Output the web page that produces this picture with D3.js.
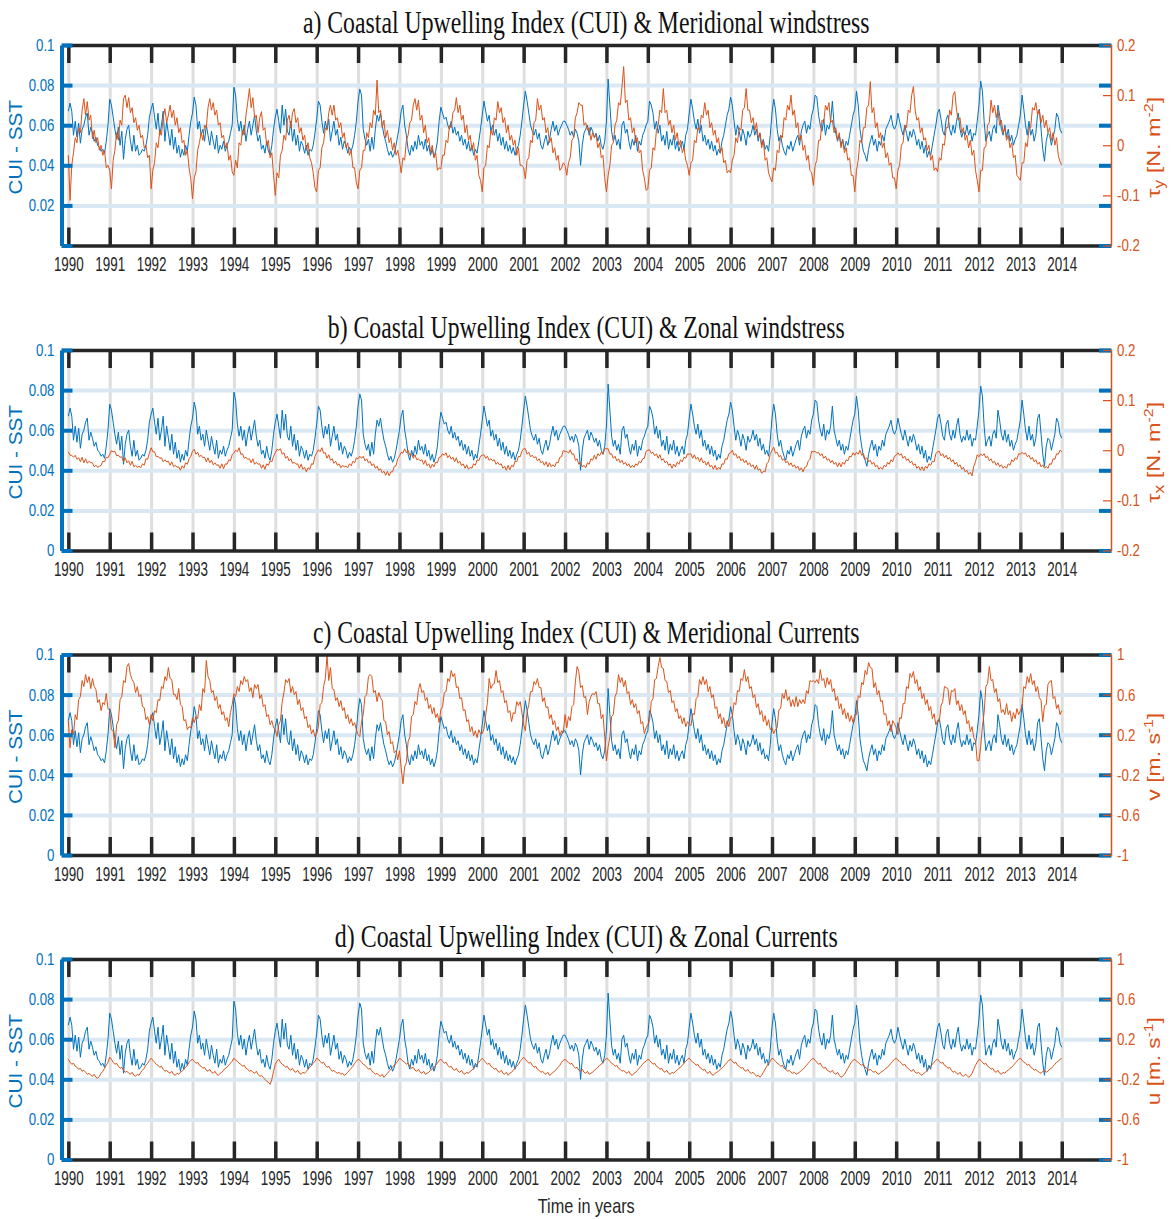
<!DOCTYPE html>
<html>
<head>
<meta charset="utf-8">
<script src="https://cdn.jsdelivr.net/npm/d3@7"></script>
<style>
body { margin: 0; background: #fff; }
</style>
</head>
<body>
<svg id="chart"></svg>
<script>
// ---- data (one row per year, values spread evenly through the year) ----
var years = d3.range(1990, 2015)
var cuiTicks = [0, 0.02, 0.04, 0.06, 0.08, 0.1]
var tauTicks = [-0.2, -0.1, 0, 0.1, 0.2]
var velTicks = [-1, -0.6, -0.2, 0.2, 0.6, 1]
var titles = [
  "a) Coastal Upwelling Index (CUI) & Meridional windstress",
  "b) Coastal Upwelling Index (CUI) & Zonal windstress",
  "c) Coastal Upwelling Index (CUI) & Meridional Currents",
  "d) Coastal Upwelling Index (CUI) & Zonal Currents"
]

// CUI - SST, in 1e-3
var cuiMilli = [
  [67,71,67,55,62,54,61,51,58,60,64,66,55,59,56,52,54,50,49,47,48,46,52,60],
  [73,70,64,58,53,59,50,57,43,53,58,60,52,47,55,47,50,45,46,48,47,50,55,64],
  [68,71,64,58,66,55,60,67,52,62,56,50,58,48,54,46,50,44,48,45,50,47,55,62],
  [66,74,70,58,62,55,58,52,60,55,50,57,52,48,55,46,50,48,52,47,50,52,56,60],
  [79,75,63,57,62,55,60,52,58,62,55,60,65,57,52,55,48,50,46,52,47,45,50,58],
  [64,68,62,56,70,60,68,57,55,62,52,58,50,55,47,52,50,46,50,45,48,47,50,56],
  [63,72,70,62,56,62,58,63,52,57,62,55,58,50,54,48,52,50,46,49,47,50,55,62],
  [72,78,75,58,53,50,53,47,54,48,58,65,62,66,60,55,52,48,45,47,44,46,50,55],
  [60,67,70,60,55,48,45,50,47,52,48,55,50,52,48,53,47,50,45,48,44,47,52,62],
  [69,66,63,64,60,58,62,56,59,55,57,52,55,50,53,48,52,47,50,45,48,46,52,58],
  [65,72,67,62,65,57,60,55,58,52,56,50,54,48,52,47,50,46,49,45,48,50,55,62],
  [70,77,72,66,60,57,55,58,53,56,50,48,52,55,50,53,58,62,57,60,55,58,60,62],
  [62,60,58,55,57,54,58,56,52,40,50,56,58,60,55,59,57,54,56,52,55,50,48,52],
  [62,83,70,57,52,55,50,53,48,60,62,56,58,52,48,53,50,55,47,52,50,55,57,60],
  [62,72,70,66,58,62,56,60,52,55,50,57,48,53,50,55,48,52,47,50,52,48,55,58],
  [66,73,68,62,58,63,56,60,52,55,50,53,48,52,47,50,45,48,46,52,55,60,65,68],
  [74,70,62,55,60,57,52,58,55,50,57,54,56,60,55,58,52,56,50,53,48,50,47,55],
  [66,73,68,58,52,55,50,47,45,50,48,52,47,50,53,55,50,57,60,62,56,60,58,65],
  [68,75,74,65,60,57,63,55,60,58,62,72,60,56,52,55,50,53,48,52,50,55,60,65],
  [68,77,70,58,52,47,45,42,48,52,55,50,53,47,52,50,55,52,58,60,62,65,60,58],
  [60,66,62,58,55,60,56,52,57,54,58,55,50,53,48,52,46,50,44,47,45,50,55,60],
  [66,68,63,57,55,63,65,58,55,60,56,62,66,58,54,57,55,60,55,58,52,56,55,62],
  [70,82,77,62,52,55,57,52,58,60,56,70,65,58,55,60,54,58,52,55,50,53,55,60],
  [65,75,68,60,55,62,55,58,52,56,66,68,58,48,42,52,56,55,50,54,58,66,64,58],
  [56]
]

// meridional windstress tau_y, in 1e-3 N m-2
var tauYMilli = [
  [-20,-110,-40,-15,15,5,35,25,70,93,60,87,50,60,13,30,5,15,-10,0,-20,-10,-45,-40],
  [-50,-87,-30,-10,25,10,50,40,93,100,75,95,65,75,45,55,30,40,15,20,-5,0,-25,-20],
  [-87,-50,-35,5,-5,30,20,55,73,45,60,80,55,70,40,55,25,35,5,10,-20,-10,-45,-67],
  [-107,-65,-53,-10,5,25,10,40,35,75,93,70,85,60,70,40,45,15,20,-5,5,-30,-20,-53],
  [-60,-30,-45,5,0,30,20,60,85,113,75,95,55,60,25,55,67,30,35,0,10,-25,-15,-60],
  [-100,-55,-65,-20,-10,20,10,50,60,35,65,73,45,55,25,35,10,20,-10,5,-25,-35,-55,-85],
  [-93,-50,-45,-5,5,35,30,65,80,60,80,50,55,35,45,15,25,-5,5,-20,-10,-45,-45,-75],
  [-87,-50,-45,-10,-10,25,15,45,35,70,60,130,65,70,35,50,15,30,5,15,-10,5,-20,-10],
  [-30,-55,-25,-30,10,20,45,50,80,93,70,90,50,60,25,40,5,15,-15,0,-25,-15,-50,-45],
  [-47,-20,-20,10,5,40,35,65,70,95,65,80,50,60,25,40,10,20,-10,5,-30,-20,-60,-70],
  [-93,-45,-40,0,-5,30,20,55,50,87,65,75,45,55,25,40,10,20,0,10,-20,-5,-40,-40],
  [-45,-67,-30,-25,10,5,45,50,93,70,80,50,55,25,35,5,15,-15,-5,-30,-20,-50,-45,-35],
  [-40,-60,-35,-25,10,15,55,65,85,80,80,40,45,30,35,10,25,15,20,-5,5,-25,-20,-65],
  [-93,-60,-40,0,5,40,50,85,80,115,157,85,90,50,55,25,35,5,15,-15,-10,-50,-65,-90],
  [-87,-50,-45,-5,-10,30,40,70,65,113,65,70,40,50,25,40,10,25,0,10,-15,-5,-30,-40],
  [-60,-35,-30,10,5,35,30,60,55,85,60,70,35,45,20,30,5,15,-15,-5,-35,-30,-55,-50],
  [-55,-30,-20,15,5,35,30,70,75,113,70,70,45,55,30,45,15,25,-5,10,-30,-25,-55,-65],
  [-73,-45,-50,-10,-15,20,15,55,50,80,70,100,60,70,35,45,10,20,-10,0,-30,-20,-50,-55],
  [-80,-40,-30,10,10,50,45,80,70,85,45,50,25,35,10,25,-5,10,-15,-5,-30,-25,-60,-60],
  [-93,-50,-30,10,5,35,35,75,80,127,65,75,35,45,15,25,-5,5,-25,-15,-40,-35,-65,-65],
  [-87,-50,-40,0,5,40,35,70,65,100,117,70,50,55,25,35,10,15,-10,0,-30,-20,-50,-45],
  [-53,-25,-30,3,0,35,35,70,60,100,107,70,50,55,25,35,10,20,-5,10,-20,-10,-50,-70],
  [-93,-50,-50,-5,-3,40,45,90,65,80,55,70,40,50,25,35,10,20,-5,5,-25,-20,-60,-65],
  [-70,-35,-35,5,-3,35,35,75,70,85,60,70,45,60,35,50,25,35,10,25,0,15,-20,-33],
  [-40]
]

// zonal windstress tau_x, in 1e-3 N m-2
var tauXMilli = [
  [-3,-10,-10,-14,-10,-18,-15,-23,-14,-25,-17,-26,-22,-25,-25,-33,-30,-34,-32,-30,-22,-23,-14,-15],
  [-8,-1,-3,-2,-11,-10,-14,-13,-23,-15,-25,-21,-30,-22,-33,-30,-34,-32,-35,-27,-30,-17,-18,-6],
  [5,-3,-3,-13,-12,-16,-15,-23,-19,-23,-22,-30,-23,-33,-30,-34,-33,-40,-31,-36,-25,-28,-17,-12],
  [-2,2,-8,-4,-13,-10,-15,-14,-23,-15,-25,-20,-29,-25,-30,-29,-36,-27,-37,-27,-28,-19,-21,-9],
  [-5,0,-3,5,-8,-7,-16,-14,-18,-17,-25,-17,-28,-24,-28,-27,-36,-29,-38,-27,-30,-21,-23,-12],
  [-5,2,0,3,-8,-5,-16,-12,-21,-17,-26,-24,-28,-27,-36,-28,-38,-34,-43,-35,-38,-27,-28,-12],
  [-5,1,-3,5,-6,-5,-16,-9,-20,-17,-26,-22,-30,-27,-35,-30,-33,-32,-35,-27,-31,-22,-25,-15],
  [-17,-12,-16,-12,-21,-17,-25,-22,-31,-27,-36,-32,-40,-37,-45,-42,-50,-42,-51,-43,-43,-32,-31,-17],
  [-12,-4,-6,3,-5,0,-10,-7,-16,-9,-19,-17,-21,-19,-28,-20,-31,-27,-36,-28,-33,-24,-25,-14],
  [-13,-7,-10,-5,-15,-10,-18,-14,-23,-15,-26,-22,-31,-27,-36,-29,-38,-34,-36,-27,-30,-19,-21,-12],
  [-10,-9,-16,-12,-20,-17,-21,-19,-28,-24,-29,-27,-36,-32,-40,-30,-39,-30,-33,-22,-23,-12,-13,-2],
  [3,3,-8,-4,-13,-10,-15,-13,-21,-17,-25,-22,-30,-23,-33,-25,-33,-29,-33,-24,-25,-14,-13,0],
  [-3,-2,-6,1,-8,-7,-20,-17,-28,-24,-33,-30,-35,-25,-28,-17,-20,-10,-18,-7,-11,-4,-8,3],
  [3,3,-8,-7,-16,-12,-21,-17,-25,-20,-28,-24,-31,-27,-35,-30,-34,-27,-30,-22,-25,-17,-16,-2],
  [0,1,-6,-4,-11,-7,-16,-9,-20,-17,-25,-22,-30,-27,-36,-28,-33,-24,-28,-19,-23,-14,-16,-7],
  [-8,-7,-16,-9,-18,-14,-23,-15,-25,-22,-30,-23,-33,-30,-38,-30,-39,-34,-38,-27,-28,-17,-18,-7],
  [-5,0,-10,-7,-16,-12,-21,-17,-25,-20,-29,-25,-33,-29,-38,-30,-40,-37,-46,-42,-43,-27,-23,-7],
  [0,6,-6,-4,-13,-10,-20,-17,-25,-22,-30,-25,-33,-29,-36,-32,-40,-35,-43,-34,-33,-22,-18,-2],
  [-3,-2,-6,-4,-11,-7,-16,-12,-20,-17,-25,-20,-28,-24,-33,-25,-33,-24,-28,-19,-21,-12,-13,-5],
  [-10,-4,-8,0,-10,-7,-18,-15,-23,-20,-28,-24,-33,-30,-38,-34,-38,-30,-33,-24,-28,-19,-23,-12],
  [-10,-5,-10,-7,-16,-12,-20,-17,-25,-22,-30,-27,-36,-32,-40,-33,-41,-32,-36,-27,-30,-22,-23,-7],
  [-3,-2,-11,-7,-15,-10,-18,-14,-23,-19,-28,-24,-33,-29,-38,-34,-43,-40,-48,-44,-51,-32,-23,-9],
  [-13,-7,-11,-7,-15,-12,-21,-17,-25,-22,-30,-25,-33,-29,-36,-32,-36,-27,-30,-19,-23,-15,-18,-7],
  [-8,-4,-8,-5,-13,-10,-18,-14,-23,-19,-28,-24,-33,-29,-36,-32,-36,-27,-28,-17,-18,-7,-8,0],
  [-3]
]

// meridional current v, in 1e-2 m s-1
var vCenti = [
  [34,7,25,20,40,35,55,58,74,68,80,72,78,66,76,68,65,52,55,44,52,50,61,46],
  [44,25,24,7,30,34,55,58,74,72,88,91,80,75,72,62,68,58,60,48,47,35,38,30],
  [40,34,44,42,55,54,68,66,78,74,87,76,75,60,60,55,66,50,48,34,35,25,28,27],
  [37,32,38,36,50,44,66,62,94,78,74,62,64,54,58,46,50,40,43,34,37,28,42,50],
  [61,58,68,63,74,70,78,73,75,63,67,57,70,66,70,56,60,48,50,38,40,30,34,27],
  [25,18,30,34,53,62,75,72,76,62,68,60,63,50,55,44,47,36,38,27,30,21,25,18],
  [21,28,50,52,68,76,99,74,87,66,65,54,57,48,54,44,47,36,40,31,36,29,32,25],
  [20,18,33,40,58,60,78,80,78,62,64,53,62,57,54,34,33,20,23,11,13,2,4,-5],
  [4,-13,-29,-12,-8,13,18,38,40,53,50,65,71,62,64,54,57,46,50,41,47,37,41,32],
  [45,48,62,63,76,73,84,78,81,67,68,56,57,44,45,33,35,23,28,19,24,17,25,21],
  [21,26,40,52,76,66,70,71,84,72,74,62,64,52,54,42,44,33,42,41,53,49,53,42],
  [30,24,43,50,63,63,73,70,76,67,67,53,57,47,48,36,40,30,34,24,28,19,24,22],
  [40,27,38,34,48,50,73,88,83,67,69,57,58,40,53,58,61,60,63,51,51,36,40,18],
  [-6,8,18,38,40,58,62,80,72,77,68,74,61,63,50,55,47,51,41,44,31,33,21,27],
  [30,34,53,56,75,76,88,97,87,86,74,73,62,64,52,54,43,46,36,39,31,37,28,33],
  [31,29,41,40,56,58,75,70,78,70,75,63,68,57,60,46,48,36,41,31,37,27,34,28],
  [37,38,52,50,64,63,76,74,85,73,78,66,68,57,60,47,51,40,44,33,39,29,35,25],
  [27,21,25,27,45,46,61,56,65,54,58,48,55,48,58,48,55,51,55,51,64,61,74,73],
  [74,72,75,71,85,74,76,67,77,70,75,63,66,54,58,46,51,40,46,36,42,33,39,32],
  [40,40,59,57,72,70,84,80,92,87,86,67,72,60,64,53,54,40,41,29,34,23,34,31],
  [27,20,37,36,51,51,68,66,81,77,83,71,75,64,68,56,61,50,55,44,48,36,41,30],
  [34,33,49,53,68,67,66,50,64,63,66,50,54,44,50,40,44,31,34,23,28,17,14,-6],
  [-6,8,28,42,68,71,88,74,75,62,66,53,56,42,45,40,51,40,44,33,42,36,46,40],
  [44,48,68,66,78,72,81,70,74,63,68,57,54,33,49,50,70,73,74,56,58,46,50,40],
  [44]
]

// zonal current u, in 1e-2 m s-1
var uCenti = [
  [0,-3,-5,-4,-7,-8,-10,-9,-12,-11,-13,-15,-14,-16,-17,-15,-18,-19,-17,-14,-12,-9,-6,-3],
  [2,0,-3,-5,-4,-7,-9,-8,-11,-13,-12,-14,-15,-13,-16,-17,-15,-16,-13,-11,-9,-6,-4,-1],
  [1,-1,-3,-5,-6,-8,-7,-10,-12,-11,-13,-14,-12,-15,-16,-14,-15,-13,-12,-10,-8,-6,-3,-1],
  [0,-2,-4,-3,-6,-7,-9,-8,-11,-12,-10,-13,-14,-12,-15,-16,-14,-13,-11,-9,-8,-6,-4,-2],
  [1,-1,-2,-4,-5,-7,-6,-9,-10,-12,-11,-13,-14,-12,-15,-17,-16,-18,-20,-22,-23,-25,-20,-12],
  [-5,-2,0,-3,-5,-6,-8,-7,-10,-11,-9,-12,-13,-11,-14,-15,-13,-14,-12,-10,-8,-6,-4,-2],
  [1,0,-2,-4,-3,-6,-8,-7,-10,-12,-11,-13,-14,-13,-15,-14,-16,-15,-13,-11,-9,-7,-4,-2],
  [0,-1,-3,-5,-6,-8,-10,-9,-12,-13,-15,-14,-16,-17,-15,-18,-16,-14,-12,-10,-8,-6,-4,-2],
  [1,0,-2,-3,-5,-4,-7,-9,-8,-11,-12,-10,-13,-14,-12,-15,-14,-13,-11,-10,-8,-6,-4,-1],
  [0,-2,-4,-3,-6,-8,-7,-10,-11,-9,-12,-13,-11,-14,-15,-13,-14,-12,-11,-9,-7,-5,-3,-1],
  [1,-1,-3,-5,-4,-7,-8,-10,-9,-12,-13,-11,-14,-15,-13,-16,-14,-13,-11,-9,-7,-5,-2,0],
  [2,0,-2,-4,-3,-6,-8,-7,-10,-11,-13,-12,-14,-15,-13,-16,-15,-13,-12,-10,-8,-6,-3,-1],
  [0,-2,-3,-5,-4,-7,-9,-8,-11,-12,-10,-13,-14,-12,-15,-14,-13,-11,-10,-8,-6,-5,-3,-1],
  [1,0,-2,-4,-5,-7,-6,-9,-10,-12,-11,-13,-14,-12,-15,-16,-14,-13,-11,-9,-7,-5,-3,-2],
  [0,-1,-3,-5,-4,-7,-8,-10,-9,-12,-13,-11,-14,-15,-13,-14,-12,-11,-9,-8,-6,-4,-2,0],
  [1,-1,-3,-4,-6,-5,-8,-9,-11,-10,-13,-14,-12,-15,-16,-14,-13,-12,-10,-9,-7,-5,-3,-1],
  [0,-2,-4,-3,-6,-7,-9,-8,-11,-12,-10,-13,-14,-13,-15,-17,-16,-18,-16,-13,-10,-7,-4,-2],
  [1,0,-2,-4,-5,-7,-6,-9,-10,-12,-11,-13,-14,-13,-15,-14,-13,-11,-10,-8,-6,-4,-2,0],
  [1,-1,-3,-5,-4,-7,-9,-8,-11,-12,-13,-11,-14,-15,-13,-16,-18,-17,-15,-12,-9,-6,-3,-1],
  [0,-2,-3,-5,-6,-5,-8,-9,-11,-10,-12,-13,-12,-14,-15,-13,-12,-11,-9,-8,-6,-4,-2,0],
  [1,-1,-2,-4,-6,-5,-8,-9,-11,-12,-10,-13,-14,-13,-15,-16,-14,-13,-11,-9,-7,-5,-3,-1],
  [0,-2,-4,-3,-6,-7,-9,-8,-11,-13,-12,-14,-15,-13,-16,-17,-15,-16,-18,-17,-14,-10,-6,-3],
  [0,-1,-3,-5,-4,-7,-8,-10,-9,-12,-13,-11,-14,-15,-13,-14,-12,-11,-9,-8,-6,-4,-2,0],
  [1,-1,-3,-4,-6,-5,-8,-9,-11,-10,-12,-13,-14,-12,-11,-13,-12,-10,-9,-7,-5,-3,-2,0],
  [1]
]

// ---- layout ----
var blue = "#0072bd"
var orange = "#d95319"
var ink = "#262626"
var svgw = 1172
var svgh = 1219
var plotLeft = 61.5
var plotRight = 1111
var plotH = 200.5
var panelTops = [45, 350, 654.5, 959]
var titleWidths = [567, 517, 547, 503]

var makeTranslateString = function(x, y) { return "translate(" + x + "," + y + ")" }

// rows of one year each -> list of {t, v}
var toSeries = function(rows, unit)
{
  var out = []
  rows.forEach(function(row, k) {
    row.forEach(function(val, j) {
      out.push({t: years[k] + j / row.length, v: val * unit})
    })
  })
  return out
}

var cui = toSeries(cuiMilli, 0.001)
var panels = [
  {series: toSeries(tauYMilli, 0.001), rdomain: [-0.2, 0.2], rticks: tauTicks, rlabel: "tau", sub: "y", zeroLabel: false},
  {series: toSeries(tauXMilli, 0.001), rdomain: [-0.2, 0.2], rticks: tauTicks, rlabel: "tau", sub: "x", zeroLabel: true},
  {series: toSeries(vCenti, 0.01), rdomain: [-1, 1], rticks: velTicks, rlabel: "v", zeroLabel: true},
  {series: toSeries(uCenti, 0.01), rdomain: [-1, 1], rticks: velTicks, rlabel: "u", zeroLabel: true}
]

var svg = d3.select("#chart")
  .attr("width", svgw)
  .attr("height", svgh)
  .style("font-family", "'Liberation Sans', Arial, sans-serif")

var xscale = d3.scaleLinear()
  .domain([1989.835, 2015.19])
  .range([plotLeft, plotRight])

var plainNum = function(d) { return String(d) }

// squeeze a text horizontally so it spans the given width
var squeeze = function(textSel, width)
{
  var bw = textSel.node().getBBox().width
  textSel.attr("transform", "scale(" + (width / bw) + ",1)")
}

var drawPanel = function(p, idx)
{
  var top = panelTops[idx]
  var g = svg.append("g").attr("transform", makeTranslateString(0, top))

  var yscale = d3.scaleLinear().domain([0, 0.1]).range([plotH, 0])
  var rscale = d3.scaleLinear().domain(p.rdomain).range([plotH, 0])

  // grid
  var vgrid = g.append("g")
    .attr("transform", makeTranslateString(0, plotH))
    .call(d3.axisBottom(xscale).tickValues(years).tickSize(-plotH).tickFormat(""))
  vgrid.select(".domain").remove()
  vgrid.selectAll("line").attr("stroke", "#dedede").attr("stroke-width", 3)

  var hgrid = g.append("g")
    .attr("transform", makeTranslateString(plotLeft, 0))
    .call(d3.axisLeft(yscale).tickValues([0.02, 0.04, 0.06, 0.08]).tickSize(-(plotRight - plotLeft)).tickFormat(""))
  hgrid.select(".domain").remove()
  hgrid.selectAll("line").attr("stroke", "#dae8f4").attr("stroke-width", 4)

  // data
  var clipId = "clip" + idx
  g.append("clipPath").attr("id", clipId)
    .append("rect")
    .attr("x", plotLeft).attr("y", 0)
    .attr("width", plotRight - plotLeft).attr("height", plotH)

  var data = g.append("g").attr("clip-path", "url(#" + clipId + ")")

  data.append("path")
    .datum(cui)
    .attr("fill", "none")
    .attr("stroke", blue)
    .attr("stroke-width", 1)
    .attr("stroke-linejoin", "round")
    .attr("d", d3.line().x(function(d) { return xscale(d.t) }).y(function(d) { return yscale(d.v) }))

  data.append("path")
    .datum(p.series)
    .attr("fill", "none")
    .attr("stroke", orange)
    .attr("stroke-width", 1)
    .attr("stroke-linejoin", "round")
    .attr("d", d3.line().x(function(d) { return xscale(d.t) }).y(function(d) { return rscale(d.v) }))

  // x axes, ticks pointing inward
  var bottom = g.append("g")
    .attr("transform", makeTranslateString(0, plotH))
    .call(d3.axisBottom(xscale).tickValues(years).tickSize(-18).tickSizeOuter(0).tickPadding(11).tickFormat(d3.format("d")))
  bottom.select(".domain").attr("stroke", ink).attr("stroke-width", 3.5)
  bottom.selectAll("line").attr("stroke", ink).attr("stroke-width", 3.5)
  bottom.selectAll("text")
    .attr("fill", ink)
    .style("font-size", "21px")
    .attr("transform", "scale(0.64,1)")

  var topAxis = g.append("g")
    .call(d3.axisTop(xscale).tickValues(years).tickSize(-18).tickSizeOuter(0).tickFormat(""))
  topAxis.select(".domain").attr("stroke", ink).attr("stroke-width", 3.5)
  topAxis.selectAll("line").attr("stroke", ink).attr("stroke-width", 3.5)

  // right side: blue ticks of the left scale, then the orange axis
  var rblue = g.append("g")
    .attr("transform", makeTranslateString(plotRight, 0))
    .call(d3.axisRight(yscale).tickValues(cuiTicks).tickSize(-12).tickFormat(""))
  rblue.select(".domain").remove()
  rblue.selectAll("line").attr("stroke", blue).attr("stroke-width", 4)

  var raxis = g.append("g")
    .attr("transform", makeTranslateString(plotRight, 0))
    .call(d3.axisRight(rscale).tickValues(p.rticks).tickSize(-8).tickSizeOuter(0).tickPadding(6).tickFormat(plainNum))
  raxis.select(".domain").attr("stroke", orange).attr("stroke-width", 1.5)
  raxis.selectAll("line").attr("stroke", orange).attr("stroke-width", 1.2)
  raxis.selectAll("text").attr("fill", orange).style("font-size", "17px").classed("numLabel", true)

  // left axis
  var laxis = g.append("g")
    .attr("transform", makeTranslateString(plotLeft, 0))
    .call(d3.axisLeft(yscale).tickValues(cuiTicks).tickSize(-11).tickSizeOuter(0).tickPadding(7)
      .tickFormat(function(d) { return (d === 0 && !p.zeroLabel) ? "" : plainNum(d) }))
  laxis.select(".domain").attr("stroke", blue).attr("stroke-width", 4)
  laxis.selectAll("line").attr("stroke", blue).attr("stroke-width", 4)
  laxis.selectAll("text").attr("fill", blue).style("font-size", "17px").classed("numLabel", true)

  // title
  var title = g.append("g")
    .attr("transform", makeTranslateString((plotLeft + plotRight) / 2, -12))
    .append("text")
    .text(titles[idx])
    .attr("text-anchor", "middle")
    .attr("fill", "#111")
    .style("font-family", "'Liberation Serif', 'DejaVu Serif', serif")
    .style("font-size", "32px")
  squeeze(title, titleWidths[idx])

  // left label
  var ylab = g.append("g")
    .attr("transform", makeTranslateString(22, plotH / 2 + 2) + " rotate(-90)")
    .append("text")
    .text("CUI - SST")
    .attr("text-anchor", "middle")
    .attr("fill", blue)
    .style("font-size", "19px")
  squeeze(ylab, 95)

  // right label
  var rlab = g.append("g")
    .attr("transform", makeTranslateString(1160, plotH / 2 + 2) + " rotate(-90)")
    .append("text")
    .attr("text-anchor", "middle")
    .attr("fill", orange)
    .style("font-size", "19px")
  if (p.rlabel == "tau") {
    rlab.append("tspan").text("\u03c4")
    rlab.append("tspan").text(p.sub).attr("dy", 4).style("font-size", "14px")
    rlab.append("tspan").text(" [N. m").attr("dy", -4)
    rlab.append("tspan").text("-2").attr("dy", -7).style("font-size", "13px")
    rlab.append("tspan").text("]").attr("dy", 7)
    squeeze(rlab, 101)
  } else {
    rlab.append("tspan").text(p.rlabel + " [m. s")
    rlab.append("tspan").text("-1").attr("dy", -7).style("font-size", "13px")
    rlab.append("tspan").text("]").attr("dy", 7)
    squeeze(rlab, 88)
  }
}

panels.forEach(drawPanel)

// condensed look of the number labels
svg.selectAll(".numLabel").each(function() {
  var t = d3.select(this)
  if (t.text() != "") {
    t.attr("textLength", this.getComputedTextLength() * 0.78).attr("lengthAdjust", "spacingAndGlyphs")
  }
})

// x label
var xlab = svg.append("g")
  .attr("transform", makeTranslateString((plotLeft + plotRight) / 2, 1213))
  .append("text")
  .text("Time in years")
  .attr("text-anchor", "middle")
  .attr("fill", ink)
  .style("font-size", "20px")
squeeze(xlab, 97)
</script>
</body>
</html>
